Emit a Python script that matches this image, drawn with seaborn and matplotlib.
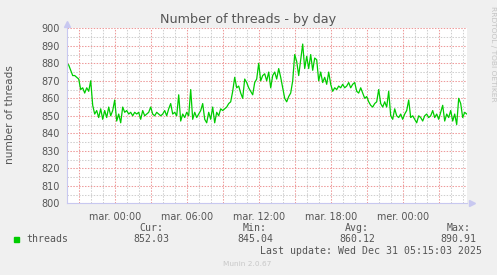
import numpy as np
import pandas as pd
import matplotlib
matplotlib.use("Agg")
import matplotlib.pyplot as plt
import matplotlib.dates as mdates
from matplotlib.patches import Rectangle
from matplotlib.ticker import MultipleLocator, FuncFormatter
import seaborn as sns

# ---------------- data ----------------
start_time = "2025-12-29 20:00"
sample_step = "10min"
threads = [
    880, 879, 876, 873, 873, 872,
    871, 865, 866, 863, 866, 864,
    870, 856, 851, 853, 849, 854,
    848, 853, 849, 855, 850, 853,
    859, 847, 851, 846, 855, 852,
    853, 851, 852, 850, 852, 851,
    852, 848, 853, 850, 851, 852,
    855, 851, 850, 852, 851, 850,
    851, 853, 850, 854, 857, 851,
    852, 850, 862, 847, 851, 849,
    852, 850, 865, 848, 852, 849,
    851, 853, 857, 848, 846, 852,
    848, 855, 846, 852, 850, 854,
    853, 854, 855, 857, 858, 864,
    872, 866, 867, 863, 860, 871,
    869, 866, 864, 862, 869, 871,
    880, 870, 873, 874, 870, 875,
    866, 873, 875, 871, 877, 872,
    866, 860, 858, 861, 863, 870,
    885, 881, 873, 882, 891, 877,
    884, 877, 885, 876, 883, 882,
    870, 875, 869, 872, 868, 875,
    868, 864, 866, 865, 867, 866,
    868, 866, 867, 869, 866, 868,
    869, 864, 863, 866, 863, 860,
    861, 858, 856, 855, 857, 858,
    865, 857, 855, 858, 855, 864,
    850, 848, 854, 850, 849, 851,
    848, 851, 853, 859, 849, 850,
    848, 846, 850, 849, 847, 850,
    851, 849, 850, 853, 849, 851,
    848, 852, 856, 847, 851, 849,
    853, 847, 851, 845, 860, 857,
    849, 852, 851,
]
x_start = "2025-12-29 20:00"
x_end = "2025-12-31 05:23"
day_names = {0: "lun.", 1: "mar.", 2: "mer.", 3: "jeu.", 4: "ven.", 5: "sam.", 6: "dim."}
series_name = "threads"
stat_labels = ["Cur:", "Min:", "Avg:", "Max:"]
stat_values = ["852.03", "845.04", "860.12", "890.91"]
title = "Number of threads - by day"
ylabel = "number of threads"
last_update = "Last update: Wed Dec 31 05:15:03 2025"
footer = "Munin 2.0.67"
side_text = "RRDTOOL / TOBI OETIKER"
y_min, y_max = 800, 900

df = pd.DataFrame({
    "time": pd.date_range(start_time, periods=len(threads), freq=sample_step),
    "value": threads,
})

# ---------------- style ----------------
W, H = 497, 275
BG = "#F0F0F0"
TXT = "#555555"
sns.set_style("white", rc={"axes.facecolor": "white", "figure.facecolor": BG})
plt.rcParams["font.family"] = ["DejaVu Sans"]

fig = plt.figure(figsize=(W / 100, H / 100), dpi=100)
fig.patch.set_facecolor(BG)

def fx(px):
    return px / W

def fy(py):
    return 1 - py / H

L, R, T, B = 66.7, 467.3, 28.3, 203.3
ax = fig.add_axes([fx(L), fy(B), (R - L) / W, (B - T) / H])

sns.lineplot(data=df, x="time", y="value", ax=ax, color="#00CC00",
             linewidth=0.9, legend=False)

ax.set_xlim(pd.Timestamp(x_start), pd.Timestamp(x_end))
ax.set_ylim(y_min, y_max)

# grids
ax.xaxis.set_major_locator(mdates.HourLocator(byhour=range(0, 24, 3)))
ax.xaxis.set_minor_locator(mdates.HourLocator())

def xfmt(v, pos):
    d = mdates.num2date(v)
    if d.hour % 6 == 0 and d.minute == 0:
        return f"{day_names[d.weekday()]} {d.hour:02d}:00"
    return ""

ax.xaxis.set_major_formatter(FuncFormatter(xfmt))
ax.yaxis.set_major_locator(MultipleLocator(10))
ax.yaxis.set_minor_locator(MultipleLocator(5))
ax.yaxis.set_major_formatter(FuncFormatter(lambda v, p: f"{int(v)}"))

ax.set_axisbelow(True)
ax.grid(which="minor", color="#CFCFCF", linestyle=(0, (1.4, 1.4)), linewidth=0.75)
ax.grid(which="major", color="#EE9A9A", linestyle=(0, (1.4, 1.4)), linewidth=0.75)

ax.tick_params(axis="x", which="major", length=3, width=0.7, color="#EE9A9A",
               labelsize=6.9, labelcolor=TXT, pad=3)
ax.tick_params(axis="x", which="minor", length=2, width=0.7, color="#D2D2D2")
ax.tick_params(axis="y", which="major", length=3, width=0.7, color="#C0C0C0",
               labelsize=7.0, labelcolor=TXT, pad=2)
ax.tick_params(axis="y", which="minor", length=2, width=0.7, color="#D2D2D2")

for s in ["top", "right"]:
    ax.spines[s].set_visible(False)
for s in ["left", "bottom"]:
    ax.spines[s].set_color("#C8C8F0")
    ax.spines[s].set_linewidth(0.8)

ax.set_xlabel("")
ax.set_ylabel("")

# axis arrows
ax.plot(0, 1.025, marker="^", markersize=5, color="#C8C8F0",
        transform=ax.transAxes, clip_on=False)
ax.plot(1.012, 0, marker=">", markersize=5, color="#C8C8F0",
        transform=ax.transAxes, clip_on=False)

# texts
fig.text(fx(248), fy(20), title, ha="center", va="center", fontsize=9.2, color=TXT)
fig.text(fx(10), fy(115), ylabel, ha="center", va="center", rotation=90,
         fontsize=7.6, color=TXT)
fig.text(fx(493), fy(53.5), side_text, ha="center", va="center", rotation=270,
         fontsize=5.4, color="#C4C4C4")

mono = "DejaVu Sans Mono"
fig.patches.append(Rectangle((fx(14), fy(242.3)), 5.3 / W, 5 / H,
                             transform=fig.transFigure, color="#00CC00"))
fig.text(fx(26.7), fy(239.3), series_name, ha="left", va="center",
         fontsize=7.1, family=mono, color=TXT)
centers = [151.5, 255.0, 357.0, 458.8]
for cx, lab, val in zip(centers, stat_labels, stat_values):
    fig.text(fx(cx), fy(227.7), lab, ha="center", va="center",
             fontsize=7.1, family=mono, color=TXT)
    fig.text(fx(cx), fy(239.3), val, ha="center", va="center",
             fontsize=7.1, family=mono, color=TXT)
fig.text(fx(482), fy(251), last_update, ha="right", va="center",
         fontsize=7.1, family=mono, color=TXT)
fig.text(fx(223), fy(264.3), footer, ha="left", va="center",
         fontsize=5.3, color="#C8C8C8")

fig.savefig("out.png", dpi=100, facecolor=BG)
